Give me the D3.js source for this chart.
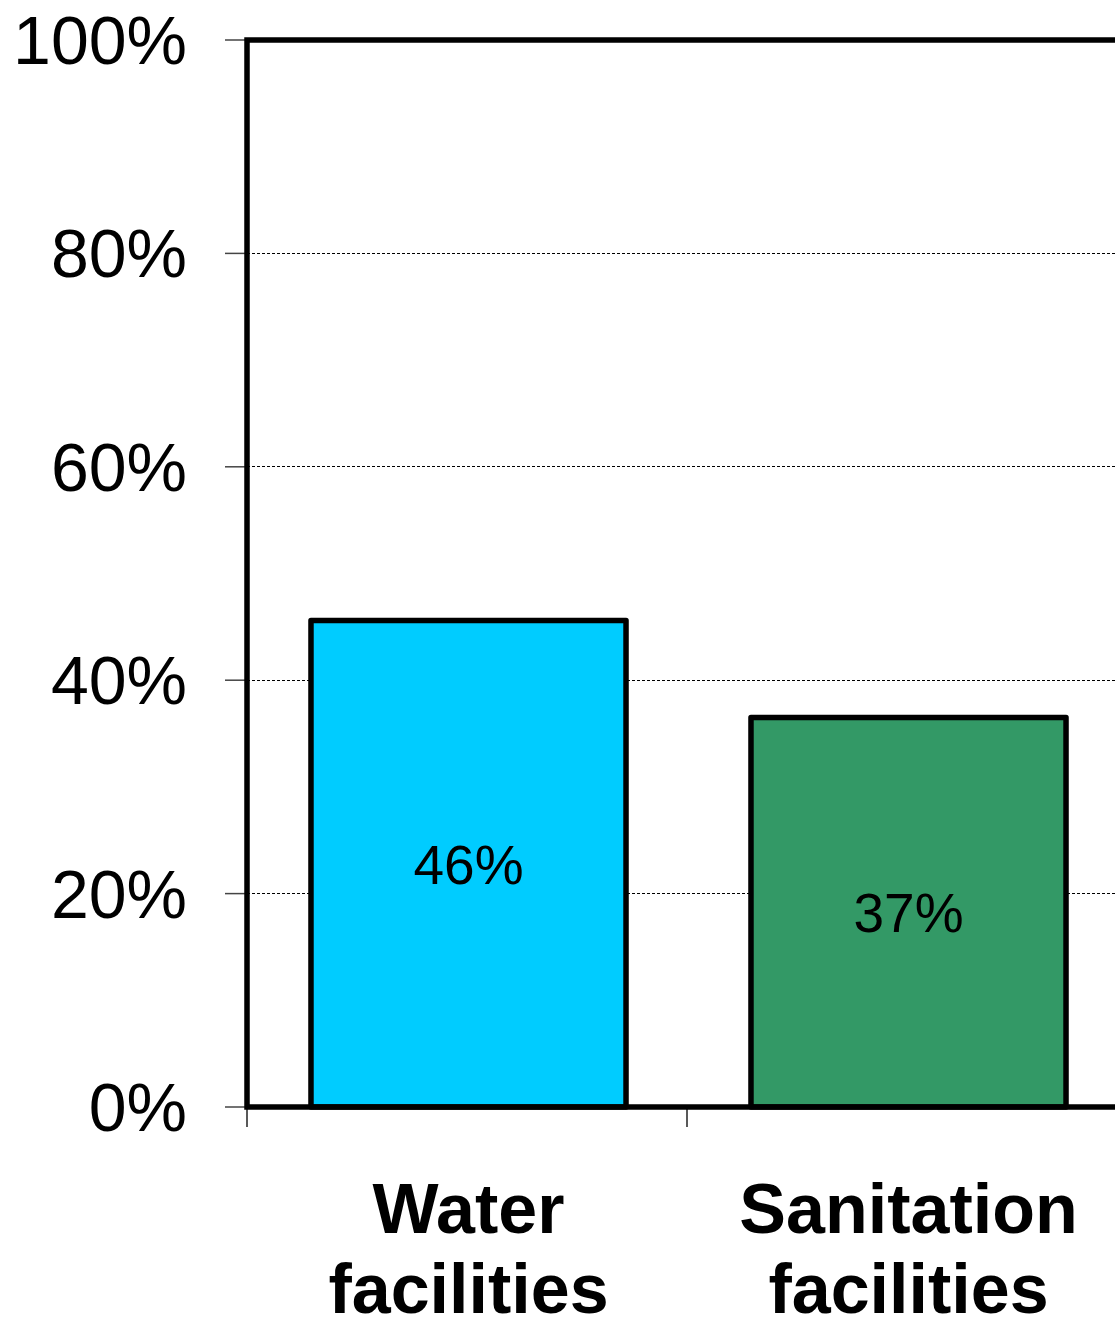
<!DOCTYPE html>
<html>
<head>
<meta charset="utf-8">
<script src="https://cdn.jsdelivr.net/npm/d3@7"></script>
<style>
  html, body { margin: 0; padding: 0; background: #fff; }
  svg { display: block; }
</style>
</head>
<body>
<svg id="chart" width="1115" height="1321"></svg>
<script>
const categories = [["Water", "facilities"], ["Sanitation", "facilities"]];
const values = [45.6, 36.5];
const valueLabels = ["46%", "37%"];
const barColors = ["#00CCFF", "#339966"];
const yTicks = [0, 20, 40, 60, 80, 100];

(function () {
const svg = d3.select("#chart");
const pLeft = 247, pRight = 1127, pTop = 40, pBottom = 1107;
const font = "'Liberation Sans', Arial, Helvetica, sans-serif";

const x = d3.scaleBand().domain(d3.range(categories.length))
  .range([pLeft + 1.5, pRight + 1.5]).paddingInner(0.284).paddingOuter(0.142);
const xEdge = d3.scaleLinear().domain([0, categories.length]).range([pLeft, pRight]);
const y = d3.scaleLinear().domain([0, 100]).range([pBottom, pTop]);

// gridlines
svg.append("g").selectAll("line").data(yTicks.filter(d => d > 0 && d < 100)).join("line")
  .attr("x1", pLeft).attr("x2", pRight)
  .attr("y1", d => y(d)).attr("y2", d => y(d))
  .attr("stroke", "#000").attr("stroke-width", 1).attr("stroke-dasharray", "3,2")
  .attr("shape-rendering", "crispEdges");

// y tick marks
svg.append("g").selectAll("line").data(yTicks).join("line")
  .attr("x1", 225).attr("x2", pLeft)
  .attr("y1", d => y(d)).attr("y2", d => y(d))
  .attr("stroke", "#444").attr("stroke-width", 1.5);

// y tick labels
svg.append("g").selectAll("text").data(yTicks).join("text")
  .attr("x", 187).attr("y", d => y(d) + 24)
  .attr("text-anchor", "end")
  .attr("font-family", font).attr("font-size", 68).attr("fill", "#000")
  .text(d => d + "%");

// x tick marks
svg.append("g").selectAll("line").data(d3.range(categories.length + 1)).join("line")
  .attr("x1", d => xEdge(d)).attr("x2", d => xEdge(d))
  .attr("y1", pBottom).attr("y2", pBottom + 20)
  .attr("stroke", "#222").attr("stroke-width", 1.5);

// bars
svg.append("g").selectAll("rect").data(values).join("rect")
  .attr("x", (d, i) => x(i)).attr("width", x.bandwidth())
  .attr("y", d => y(d)).attr("height", d => pBottom - y(d))
  .attr("fill", (d, i) => barColors[i])
  .attr("stroke", "#000").attr("stroke-width", 5.5).attr("stroke-linejoin", "round");

// value labels
svg.append("g").selectAll("text").data(values).join("text")
  .attr("x", (d, i) => x(i) + x.bandwidth() / 2)
  .attr("y", d => (y(d) + pBottom) / 2 + 20)
  .attr("text-anchor", "middle")
  .attr("font-family", font).attr("font-size", 55).attr("fill", "#000")
  .text((d, i) => valueLabels[i]);

// frame: left, top, bottom
svg.append("path")
  .attr("d", `M${pRight},${pTop} L${pLeft},${pTop} L${pLeft},${pBottom} L${pRight},${pBottom}`)
  .attr("fill", "none").attr("stroke", "#000").attr("stroke-width", 5.5)
  .attr("stroke-linejoin", "miter").attr("stroke-linecap", "square");

// category labels
const cat = svg.append("g").selectAll("text").data(categories).join("text")
  .attr("text-anchor", "middle")
  .attr("font-family", font).attr("font-size", 70).attr("font-weight", "bold").attr("fill", "#000");
cat.each(function (d, i) {
  const t = d3.select(this);
  d.forEach((line, j) => {
    t.append("tspan").attr("x", x(i) + x.bandwidth() / 2).attr("y", 1233 + j * 80).text(line);
  });
});
})();
</script>
</body>
</html>
